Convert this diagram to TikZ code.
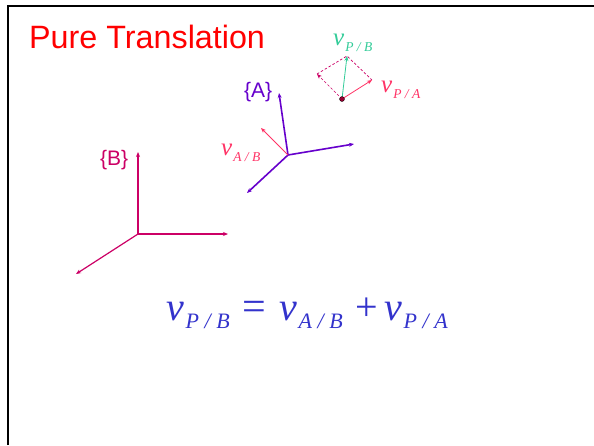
\documentclass[tikz,border=0pt]{standalone}
\usepackage{fontspec}
\setmainfont{Liberation Serif}
\newfontfamily\arialf{Liberation Sans}
\usetikzlibrary{arrows.meta}
\definecolor{titlered}{HTML}{FF0000}
\definecolor{purpA}{HTML}{6600CC}
\definecolor{crimB}{HTML}{CC0066}
\definecolor{velred}{HTML}{FF3366}
\definecolor{tealv}{HTML}{33CC99}
\definecolor{dotred}{HTML}{990033}
\definecolor{eqblue}{HTML}{3333CC}
% #1 first letter, #2 second letter, #3 sub size, #4 v size, #5 drop
\newcommand\velsub[5]{{\fontsize{#4}{#4}\selectfont\itshape v}\raisebox{#5}{\fontsize{#3}{#3}\selectfont\itshape\kern0.08em #1\kern0.25em/\kern0.25em#2}}
\begin{document}
\begin{tikzpicture}[x=1pt,y=-1pt,
  axisA/.style={draw=purpA,line width=1.6pt,-{Stealth[length=5pt,width=4pt]}},
  axisB/.style={draw=crimB,line width=1.2pt,-{Stealth[length=5pt,width=4pt]}},
  thinvel/.style={line width=0.8pt,-{Stealth[length=5pt,width=4pt]}},
  lbl/.style={inner sep=0pt,anchor=base west}]
\useasboundingbox (0,0) rectangle (594,445);
\fill[white] (0,0) rectangle (594,445);
% frame
\draw[line width=2pt] (8,445) -- (8,6) -- (594,6);
% title
\node[lbl,text=titlered,font=\arialf\fontsize{32.3}{32.3}\selectfont] (title) at (29,48) {Pure Translation};
% frame A
\coordinate (Ao) at (288,155);
\coordinate (Ay) at (279,93);
\coordinate (Ax) at (354,144);
\coordinate (Az) at (247,193);
\coordinate (Avab) at (261,128);
\draw[axisA] (Ao) -- (Ay);
\draw[axisA] (Ao) -- (Ax);
\draw[axisA] (Ao) -- (Az);
\draw[thinvel,draw=velred] (Ao) -- (Avab);
\node[lbl,text=purpA,font=\arialf\fontsize{21}{21}\selectfont] (labA) at (244,97) {\{A\}};
\node[lbl,text=velred] (vAB) at (221,155) {\velsub{A}{B}{13.5}{25}{-6pt}};
% frame B
\coordinate (Bo) at (138,234);
\coordinate (By) at (138,152);
\coordinate (Bx) at (228,234);
\coordinate (Bz) at (76,274);
\draw[axisB] (Bo) -- (By);
\draw[axisB] (Bo) -- (Bx);
\draw[axisB] (Bo) -- (Bz);
\node[lbl,text=crimB,font=\arialf\fontsize{21}{21}\selectfont] (labB) at (100,165) {\{B\}};
% velocity diagram
\coordinate (P) at (342,99);
\coordinate (PA) at (372,80);
\coordinate (AB) at (317,74);
\coordinate (PB) at (347,56);
\draw[crimB,line width=0.7pt,dash pattern=on 2.5pt off 2pt] (AB) -- (PB) -- (PA);
\draw[crimB,line width=0.7pt,dash pattern=on 2.5pt off 2pt,-{Stealth[length=5pt,width=4pt]}] (P) -- (AB);
\draw[thinvel,draw=velred] (P) -- (PA);
\draw[thinvel,draw=tealv] (P) -- (PB);
\node[circle,fill=dotred,draw=black,line width=0.3pt,inner sep=0pt,minimum size=5pt] (Pdot) at (P) {};
\node[lbl,text=tealv] (vPB) at (333,45) {\velsub{P}{B}{13.5}{25}{-6pt}};
\node[lbl,text=velred] (vPA) at (381,92) {\velsub{P}{A}{13.5}{25}{-6pt}};
% equation
\node[lbl,text=eqblue] (eq1) at (166,320) {\velsub{P}{B}{22}{40}{-8pt}};
\node[lbl,text=eqblue,font=\fontsize{42}{42}\selectfont] (eqs) at (242,320) {=};
\node[lbl,text=eqblue] (eq2) at (279,320) {\velsub{A}{B}{22}{40}{-8pt}};
\node[lbl,text=eqblue,font=\fontsize{40}{40}\selectfont] (eqp) at (355,320) {+};
\node[lbl,text=eqblue] (eq3) at (384,320) {\velsub{P}{A}{22}{40}{-8pt}};
\end{tikzpicture}
\end{document}
